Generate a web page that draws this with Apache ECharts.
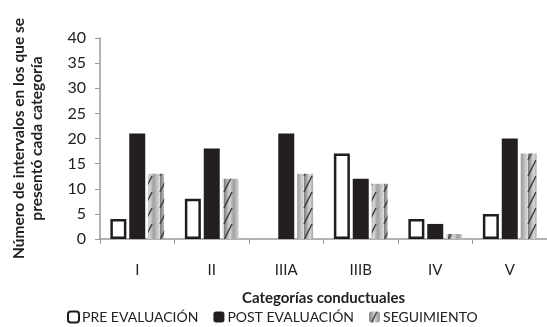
<!DOCTYPE html>
<html><head><meta charset="utf-8">
<script src="https://cdn.jsdelivr.net/npm/echarts@6/dist/echarts.min.js"></script>
<style>html,body{margin:0;padding:0;background:#fff}#c{width:547px;height:327px}</style>
</head><body><div id="c"></div>
<script>
const categories = ['I','II','IIIA','IIIB','IV','V'];
const pre = [4, 8, null, 17, 4, 5];
const post = [21, 18, 21, 12, 3, 20];
const seg = [13, 12, 13, 11, 1, 17];
const yTicks = [0,5,10,15,20,25,30,35,40];

function stripePattern(){
  const c = document.createElement('canvas');
  c.width = 16; c.height = 16;
  const g = c.getContext('2d');
  const grd = g.createLinearGradient(0,0,16,0);
  grd.addColorStop(0,'#7a7a7a'); grd.addColorStop(0.35,'#d8d8d8');
  grd.addColorStop(0.6,'#a0a0a0'); grd.addColorStop(1,'#e0e0e0');
  g.fillStyle = grd; g.fillRect(0,0,16,16);
  g.strokeStyle = '#444'; g.lineWidth = 1.5;
  for (let k=-16;k<=32;k+=16){ g.beginPath(); g.moveTo(k,16); g.lineTo(k+8,0); g.stroke(); }
  return c;
}
const font = 'Lato, "Open Sans", sans-serif';
const chart = echarts.init(document.getElementById('c'));
chart.setOption({
  animation:false,
  grid:{left:100,right:0,top:38,bottom:88},
  legend:{
    bottom:-2,left:62,itemWidth:11,itemHeight:11,itemGap:15,
    textStyle:{fontFamily:font,fontSize:14,color:'#222',padding:[0,0,0,-2]},
    data:['PRE EVALUACIÓN','POST EVALUACIÓN','SEGUIMIENTO']
  },
  xAxis:{
    type:'category',data:categories,
    name:'Categorías conductuales',nameLocation:'middle',nameGap:52,
    nameTextStyle:{fontFamily:font,fontSize:15,fontWeight:'bold',color:'#222'},
    axisLine:{lineStyle:{color:'#999',width:1.5}},
    axisTick:{show:true,length:5,lineStyle:{color:'#999'}},
    axisLabel:{fontFamily:font,fontSize:15,color:'#222',margin:24}
  },
  yAxis:{
    type:'value',min:0,max:40,interval:5,
    name:'Número de intervalos en los que se\npresentó cada categoría',
    nameLocation:'middle',nameGap:54,nameRotate:90,
    nameTextStyle:{fontFamily:font,fontSize:15.5,fontWeight:'bold',color:'#222',lineHeight:18},
    axisLine:{show:true,lineStyle:{color:'#999',width:1.5}},
    axisTick:{show:true,length:5,lineStyle:{color:'#999'}},
    splitLine:{show:false},
    axisLabel:{fontFamily:font,fontSize:16,color:'#222',margin:14,
      formatter:v=>yTicks.includes(v)?String(v):''}
  },
  series:[
    {name:'PRE EVALUACIÓN',type:'bar',data:pre,barWidth:16,barGap:'18%',barCategoryGap:'27%',
     itemStyle:{color:'#fff',borderColor:'#1e1e1e',borderWidth:2.5}},
    {name:'POST EVALUACIÓN',type:'bar',data:post,barWidth:16,
     itemStyle:{color:'#231f20'}},
    {name:'SEGUIMIENTO',type:'bar',data:seg,barWidth:16,
     itemStyle:{color:{image:stripePattern(),repeat:'repeat'}}}
  ]
});
</script></body></html>
